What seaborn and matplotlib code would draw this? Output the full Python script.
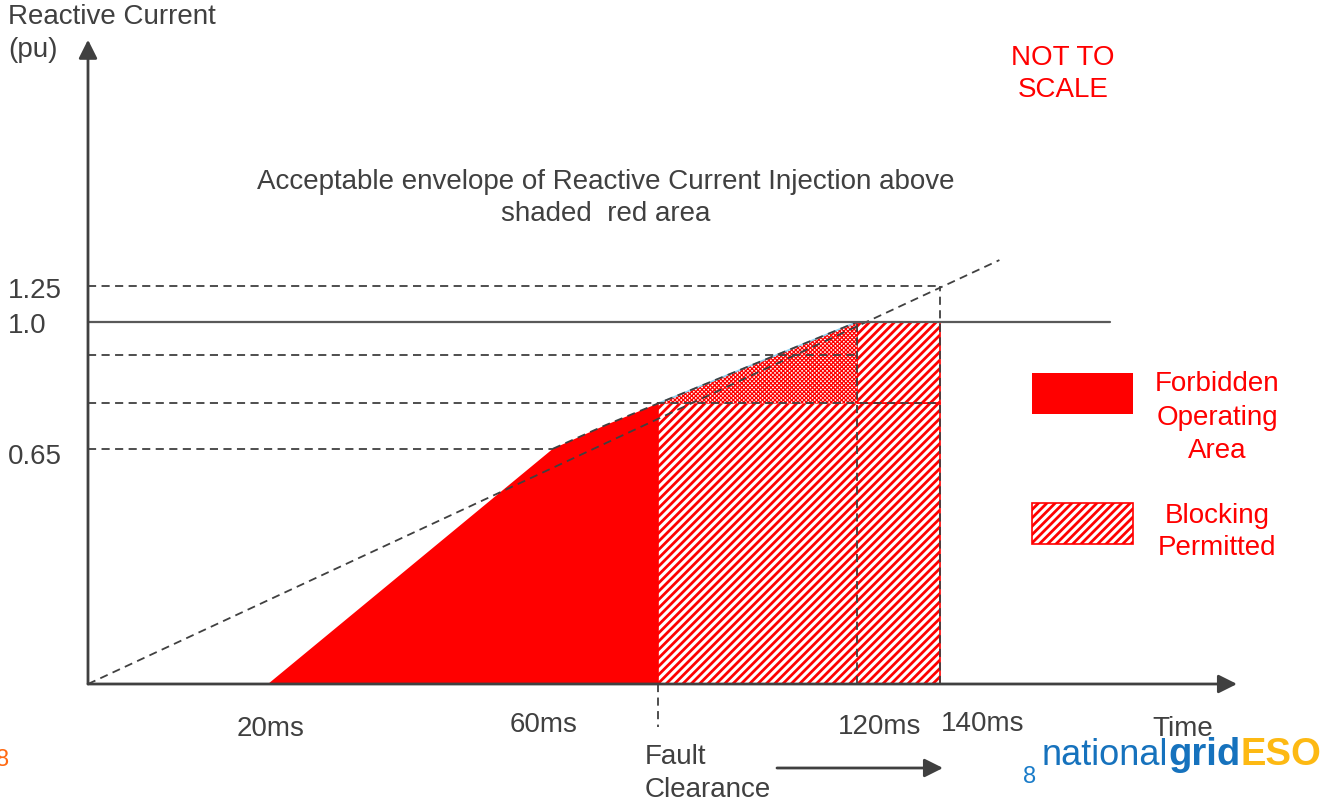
import numpy as np
import seaborn as sns
import matplotlib.pyplot as plt
from matplotlib.patches import Polygon, Rectangle

# ---- data (not to scale diagram) ----
tick_ms = [20, 60, 120, 140]
tick_labels = ['20ms', '60ms', '120ms', '140ms']
level_pu = [1.25, 1.0, 0.65]
level_labels = ['1.25', '1.0', '0.65']
fault_ms = 80

# forbidden operating area (upper edge of the red shape)
forb_t = [20, 60, 70, 80, 80]
forb_i = [0, 0.65, 0.715, 0.775, 0]
# blocking permitted areas
block_low_t = [80, 140, 140, 80]
block_low_i = [0, 0, 0.775, 0.775]
block_high_t = [120, 140, 140, 120]
block_high_i = [0.775, 0.775, 1.0, 1.0]
block_tri_t = [80, 120, 120]
block_tri_i = [0.775, 1.0, 0.775]
# envelope curve on top of shaded area
env_t = [60, 70, 80, 120]
env_i = [0.65, 0.715, 0.775, 1.0]
# sloping reference line
diag_t = [0, 154]
diag_i = [0, 1.43]
# dashed guides: (level, end time)
guide_i = [1.25, 0.91, 0.775, 0.65]
guide_end = [140, 120, 140, 60]
rated_i = 1.0
rated_end = 180

GRAY = '#404040'
RED = '#ff0000'

sns.set_theme(style='white')
plt.rcParams['font.family'] = ['Liberation Sans', 'DejaVu Sans']
plt.rcParams['hatch.linewidth'] = 2.0

fig = plt.figure(figsize=(13.31, 8.03), dpi=100)
ax = fig.add_axes([0, 0, 1, 1])

# piecewise axis scales, since the sketch is not to scale
X_MS = [-14, 0, 20, 60, 80, 120, 140, 210, 240]
X_PX = [-20, 88, 268, 553, 658, 857, 940, 1237, 1365]
Y_PU = [-0.4, 0, 1.0, 1.25, 3.5]
Y_UP = [118 - 0.4 * 362, 118, 480, 516, 516 + 2.25 * 144]

fx = lambda v: np.interp(v, X_MS, X_PX)
fx_inv = lambda p: np.interp(p, X_PX, X_MS)
fy = lambda v: np.interp(v, Y_PU, Y_UP)
fy_inv = lambda p: np.interp(p, Y_UP, Y_PU)
ax.set_xscale('function', functions=(fx, fx_inv))
ax.set_yscale('function', functions=(fy, fy_inv))

# shaded regions
ax.add_patch(Polygon(list(zip(forb_t, forb_i)), closed=True, facecolor=RED, edgecolor='none', zorder=2))
ax.add_patch(Polygon(list(zip(block_low_t, block_low_i)), closed=True, facecolor='white',
                     edgecolor=RED, hatch='////', lw=1.2, zorder=2))
ax.add_patch(Polygon(list(zip(block_high_t, block_high_i)), closed=True, facecolor='white',
                     edgecolor=RED, hatch='////', lw=1.2, zorder=2))
with plt.rc_context({'hatch.linewidth': 0.9}):
    tri = Polygon(list(zip(block_tri_t, block_tri_i)), closed=True, facecolor='white',
                  edgecolor=RED, hatch='xxxxxxxx', lw=0, zorder=2)
if hasattr(tri, 'set_hatch_linewidth'):
    tri.set_hatch_linewidth(0.9)
ax.add_patch(tri)
ax.plot(block_tri_t[:2], block_tri_i[:2], color='#8fd0ee', lw=1.2, zorder=3)

dash = (0, (4.5, 3))
sns.lineplot(x=diag_t, y=diag_i, ax=ax, color=GRAY, lw=1.3, linestyle=dash, zorder=4)
ax.plot(env_t, env_i, color=GRAY, lw=1.3, linestyle=dash, zorder=4)
for lvl, end in zip(guide_i, guide_end):
    ax.plot([0, end], [lvl, lvl], color=GRAY, lw=1.3, linestyle=dash, zorder=4)
ax.plot([120, 120], [0, 1.0], color=GRAY, lw=1.3, linestyle=dash, zorder=4)
ax.plot([140, 140], [0, 1.25], color=GRAY, lw=1.3, linestyle=dash, zorder=4)
ax.plot([fault_ms, fault_ms], [0, -0.12], color=GRAY, lw=1.3, linestyle=dash, zorder=4)
ax.plot([0, rated_end], [rated_i, rated_i], color='#595959', lw=1.6, zorder=4)

# axes with arrow heads
arrow = dict(arrowstyle='-|>', color=GRAY, lw=2, mutation_scale=28, shrinkA=0, shrinkB=0)
ax.annotate('', xy=(0, 2.96), xytext=(0, 0), arrowprops=arrow, zorder=5)
ax.annotate('', xy=(210, 0), xytext=(0, 0), arrowprops=arrow, zorder=5)
ax.annotate('', xy=(943, 34), xytext=(777, 34), xycoords='figure pixels',
            textcoords='figure pixels', arrowprops=arrow)

ax.set_xlim(fx_inv(0), fx_inv(1331))
ax.set_ylim(fy_inv(0), fy_inv(803))
ax.axis('off')


def ftext(x, y, s, **kw):
    kw.setdefault('fontsize', 20)
    kw.setdefault('color', GRAY)
    return fig.text(x / 1331, 1 - y / 803, s, **kw)


# tick labels (hand placed in the original sketch)
tick_x = [271, 544, 880, 983]
tick_y = [729, 725, 727, 724]
for x, y, s in zip(tick_x, tick_y, tick_labels):
    ftext(x, y, s, ha='center', va='center')
level_y = [291, 326, 457]
for y, s in zip(level_y, level_labels):
    ftext(8, y, s, ha='left', va='center')

ftext(8, 17, 'Reactive Current', ha='left', va='center')
ftext(8, 50, '(pu)', ha='left', va='center')
ftext(1183, 729, 'Time', ha='center', va='center')
ftext(645, 757, 'Fault', ha='left', va='center')
ftext(645, 790, 'Clearance', ha='left', va='center')
ftext(606, 182, 'Acceptable envelope of Reactive Current Injection above', ha='center', va='center')
ftext(606, 214, 'shaded  red area', ha='center', va='center')
ftext(1063, 58, 'NOT TO', ha='center', va='center', color=RED)
ftext(1063, 90, 'SCALE', ha='center', va='center', color=RED)

# legend keys
ax.add_patch(Rectangle((1032 / 1331, 1 - 415 / 803), 101 / 1331, 41 / 803, transform=ax.transAxes,
                       facecolor=RED, edgecolor='none'))
ax.add_patch(Rectangle((1032 / 1331, 1 - 545 / 803), 101 / 1331, 41 / 803, transform=ax.transAxes,
                       facecolor='white', edgecolor=RED, hatch='////', lw=1.2))
for y, s in zip([384, 418, 451, 516, 548], ['Forbidden', 'Operating', 'Area', 'Blocking', 'Permitted']):
    ftext(1217, y, s, ha='center', va='center', color=RED)

# page furniture
ftext(-4, 760, '8', ha='left', va='center', fontsize=17, color='#ff6a13')
ftext(1030, 777, '8', ha='center', va='center', fontsize=17, color='#1a7cc9')
t1 = ftext(1042, 765, 'national', fontsize=26, color='#1672bd', va='baseline')
t2 = ax.annotate('grid', xy=(1, 0), xycoords=t1, fontsize=27.5, fontweight='bold', color='#1672bd',
                 va='bottom', ha='left', annotation_clip=False)
t3 = ax.annotate('ESO', xy=(1, 0), xycoords=t2, fontsize=27.5, fontweight='bold', color='#fdb913',
                 va='bottom', ha='left', annotation_clip=False)

fig.savefig('out.png', dpi=100)
